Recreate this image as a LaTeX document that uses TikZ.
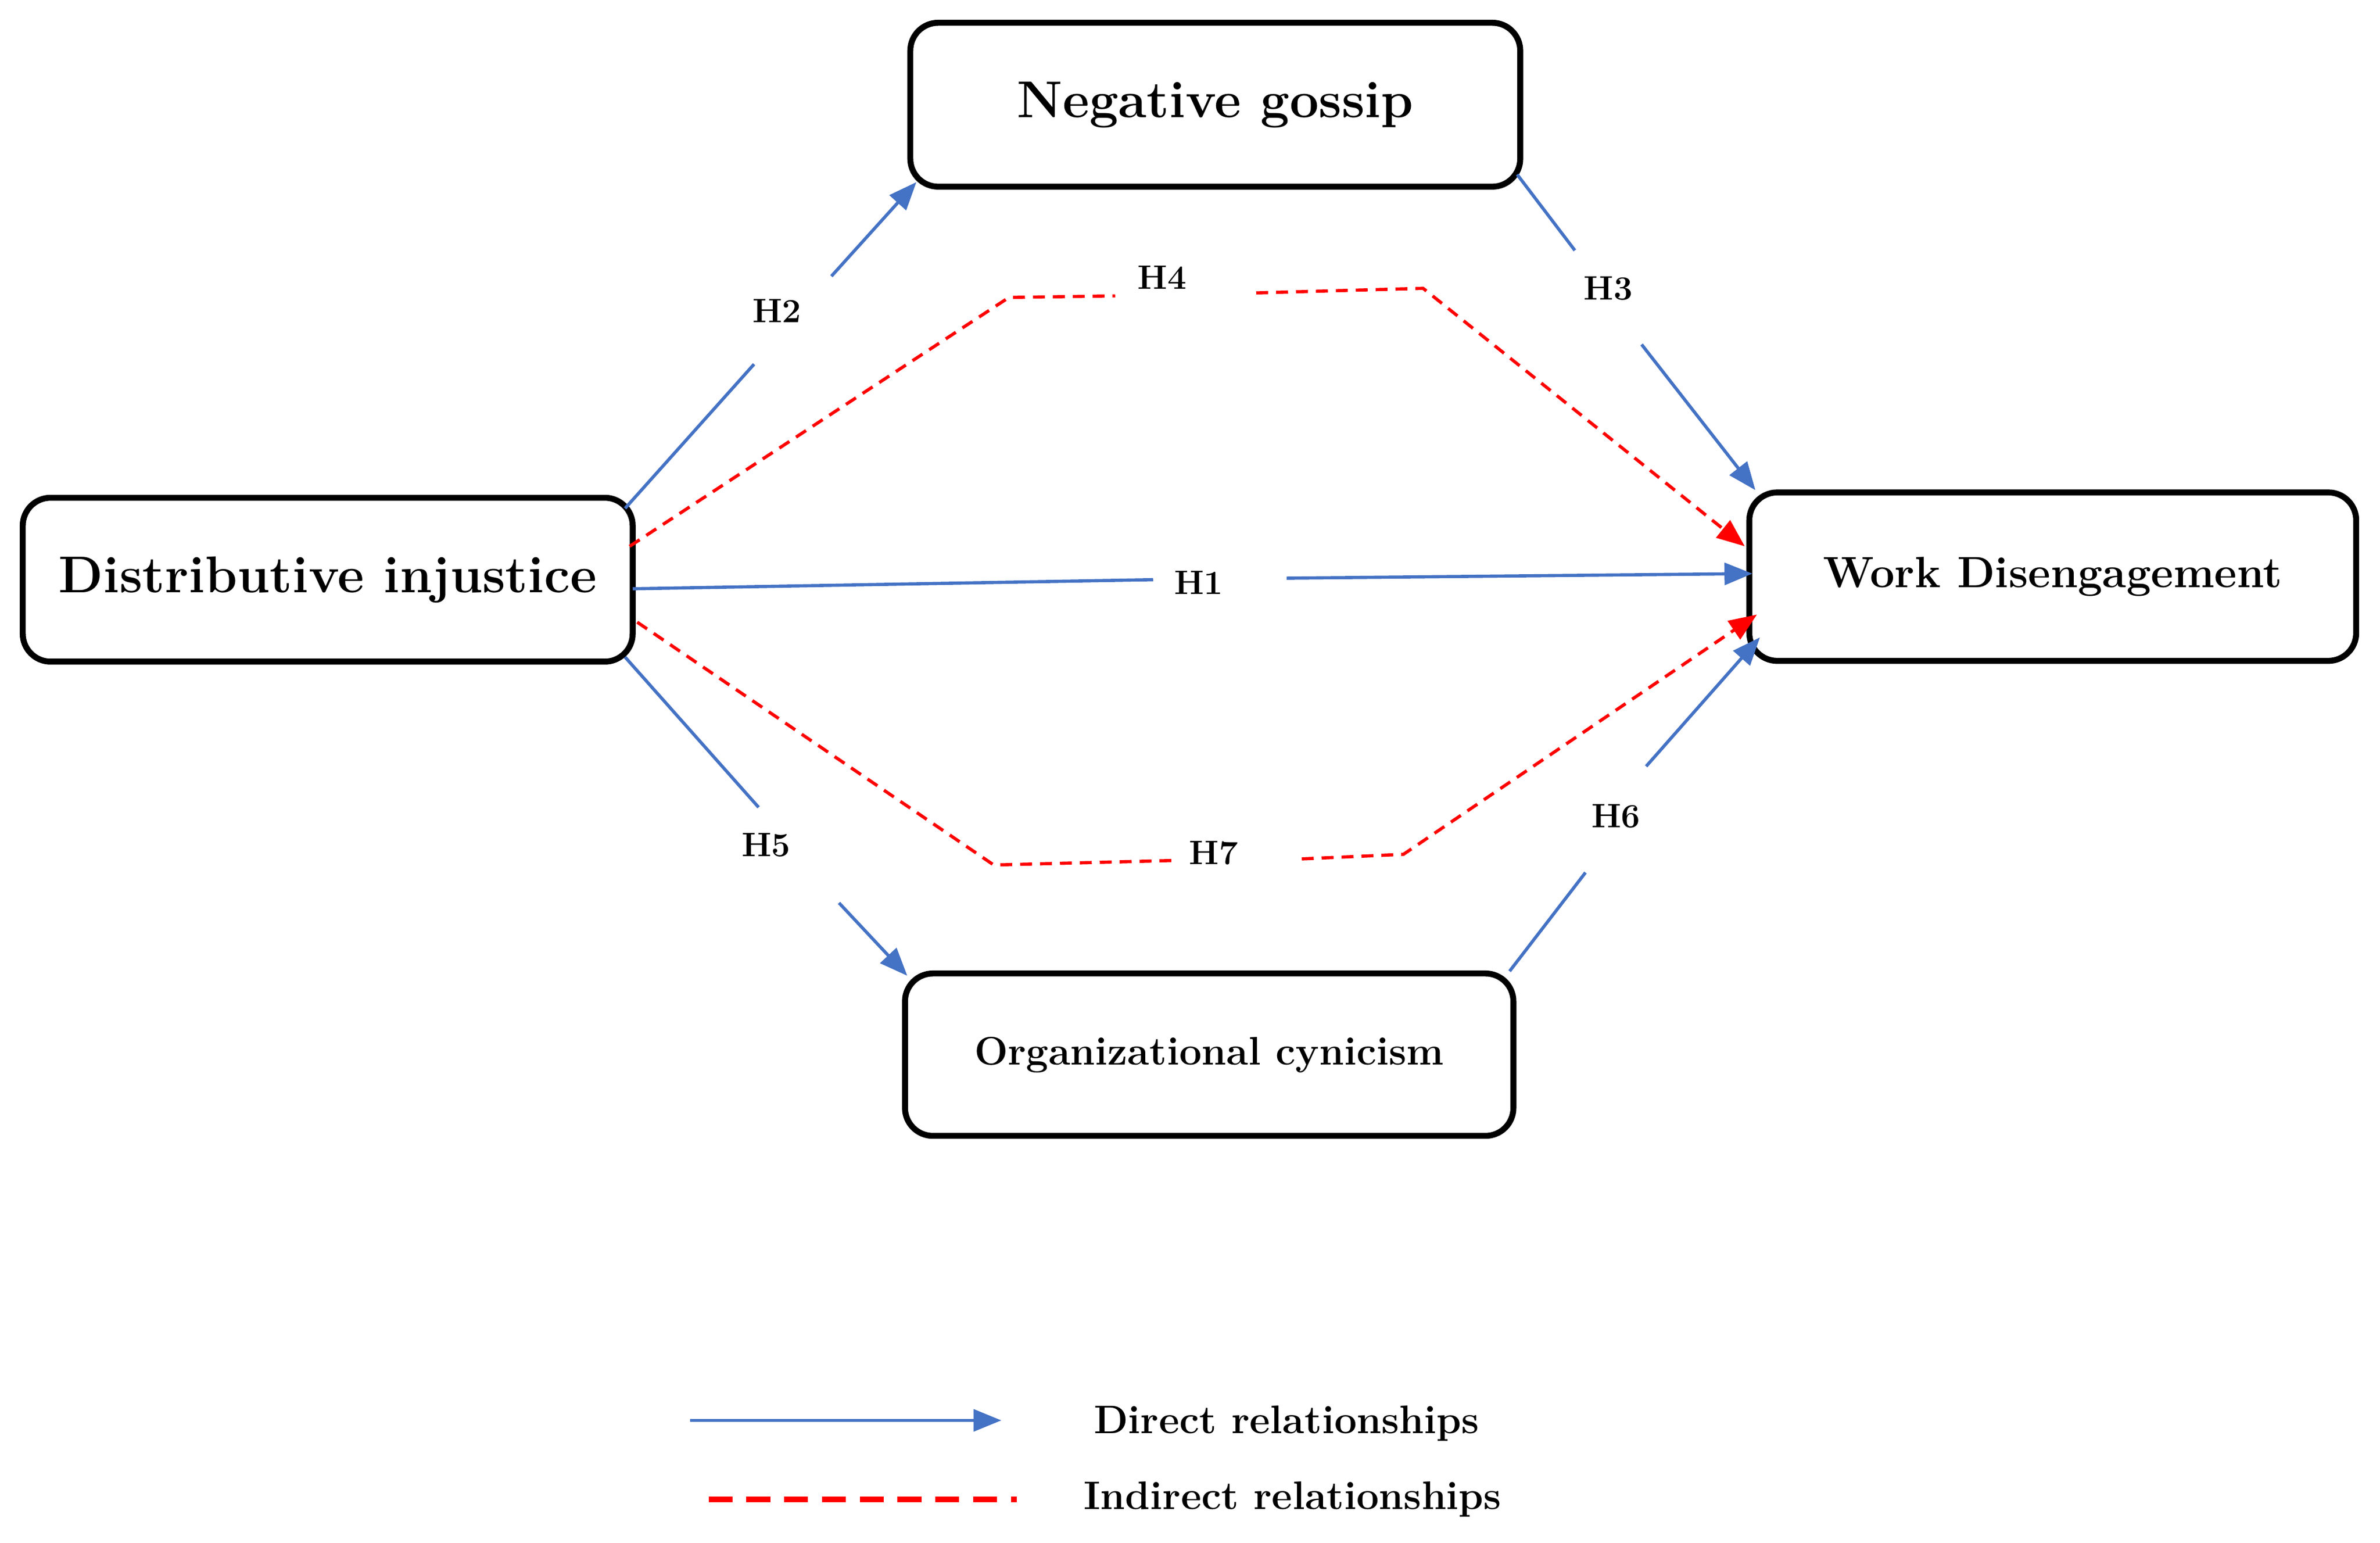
\documentclass[tikz,border=0pt]{standalone}
\usetikzlibrary{arrows.meta}
\begin{document}
\begin{tikzpicture}[x=0.0268cm,y=-0.0268cm,
 box/.style={draw=black,line width=3pt,rounded corners=14pt,minimum width=402*0.0268cm,minimum height=108*0.0268cm,font=\bfseries\fontsize{26}{30}\selectfont},
 dir/.style={draw={rgb,255:red,68;green,114;blue,196},line width=1.6pt},
 dira/.style={dir,-{Triangle[length=14pt,width=11pt]}},
 ind/.style={draw=red,line width=1.6pt,dash pattern=on 6pt off 4pt},
 inda/.style={ind,-{Triangle[length=14pt,width=11pt]}},
 lab/.style={font=\bfseries\fontsize{17}{20}\selectfont},
 leg/.style={font=\bfseries\fontsize{20}{24}\selectfont}]
\useasboundingbox (0,0) rectangle (1568.7,1016.8);
\node[box] (ng) at (801,69) {Negative gossip};
\node[box] (di) at (216,382) {Distributive injustice};
\node[box,minimum width=400*0.0268cm,minimum height=111*0.0268cm,font=\bfseries\fontsize{22}{26}\selectfont] (wd) at (1353,380) {Work Disengagement};
\node[box,minimum width=401*0.0268cm,minimum height=107*0.0268cm,font=\bfseries\fontsize{20}{24}\selectfont] (oc) at (797,695) {Organizational cynicism};
% labels
\node[lab] (h1) at (790,384) {H1};
\node[lab] (h2) at (512,205) {H2};
\node[lab] (h3) at (1060,190) {H3};
\node[lab] (h4) at (766,183) {H4};
\node[lab] (h5) at (505,557) {H5};
\node[lab] (h6) at (1065,538) {H6};
\node[lab] (h7) at (800,562) {H7};
% coordinates
\coordinate (a1) at (412,335); \coordinate (a2) at (497,240); \coordinate (a3) at (548,182); \coordinate (a4) at (604,120);
\coordinate (b1) at (1000,115); \coordinate (b2) at (1038,165); \coordinate (b3) at (1082,227); \coordinate (b4) at (1157,323);
\coordinate (c1) at (417,388); \coordinate (c2) at (760,382); \coordinate (c3) at (848,381); \coordinate (c4) at (1155,378);
\coordinate (d1) at (412,433); \coordinate (d2) at (500,532); \coordinate (d3) at (553,595); \coordinate (d4) at (598,643);
\coordinate (e1) at (995,640); \coordinate (e2) at (1045,575); \coordinate (e3) at (1085,505); \coordinate (e4) at (1160,420);
\draw[dir] (a1) -- (a2); \draw[dira] (a3) -- (a4);
\draw[dir] (b1) -- (b2); \draw[dira] (b3) -- (b4);
\draw[dir] (c1) -- (c2); \draw[dira] (c3) -- (c4);
\draw[dir] (d1) -- (d2); \draw[dira] (d3) -- (d4);
\draw[dir] (e1) -- (e2); \draw[dira] (e3) -- (e4);
\coordinate (f1) at (415,360); \coordinate (f2) at (665,196); \coordinate (f3) at (735,195);
\coordinate (f4) at (828,193); \coordinate (f5) at (938,190); \coordinate (f6) at (1150,360);
\coordinate (g1) at (420,410); \coordinate (g2) at (655,570); \coordinate (g3) at (775,567);
\coordinate (g4) at (858,566); \coordinate (g5) at (925,563); \coordinate (g6) at (1158,405);
\draw[ind] (f1) -- (f2) -- (f3); \draw[inda] (f4) -- (f5) -- (f6);
\draw[ind] (g1) -- (g2) -- (g3); \draw[inda] (g4) -- (g5) -- (g6);
% legend
\coordinate (l1) at (455,936); \coordinate (l2) at (660,936);
\coordinate (m1) at (467,988); \coordinate (m2) at (670,988);
\draw[dira] (l1) -- (l2);
\draw[draw=red,line width=3pt,dash pattern=on 12pt off 7pt] (m1) -- (m2);
\node[leg] (lt1) at (848,938) {Direct relationships};
\node[leg] (lt2) at (852,988) {Indirect relationships};
\end{tikzpicture}
\end{document}
